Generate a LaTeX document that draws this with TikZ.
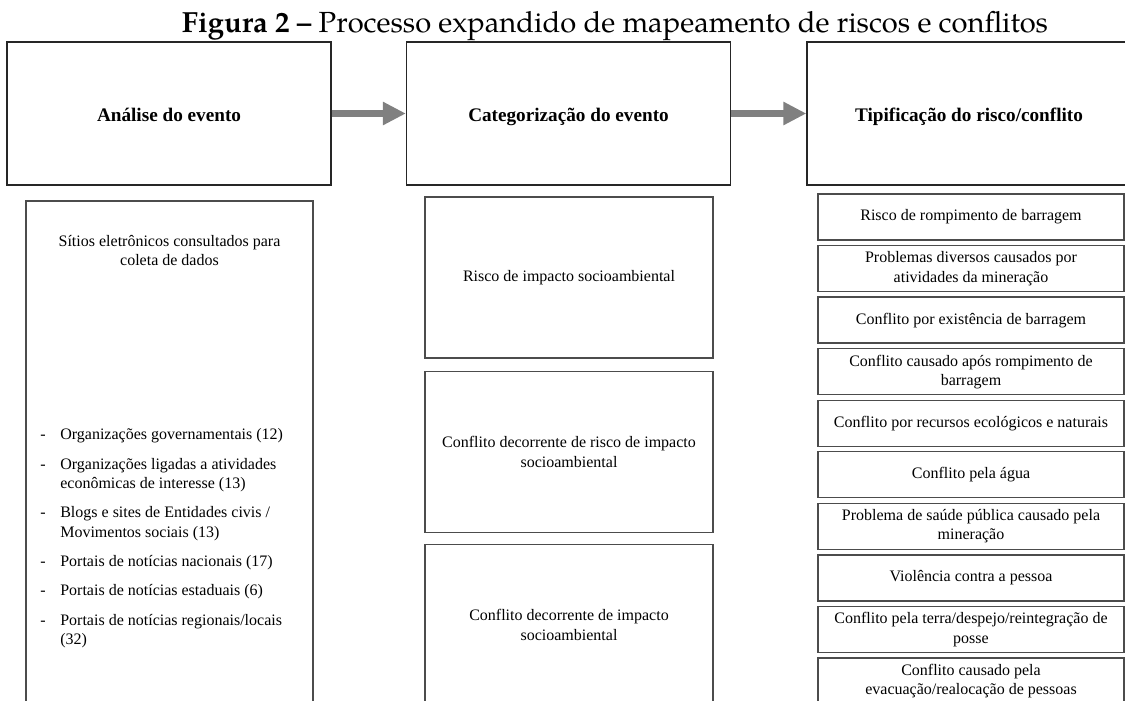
\documentclass[tikz,border=0pt]{standalone}
\usepackage{fontspec}
\setmainfont{Liberation Serif}
\newfontfamily\titlefont{TeX Gyre Pagella}
\usetikzlibrary{arrows.meta}

\begin{document}
\begin{tikzpicture}[x=0.625pt,y=-0.625pt]

        \useasboundingbox (0,0) rectangle (1125,700);
        \clip (0,0) rectangle (1125,700);

        \node[anchor=base] (titulo) at (615,32)
          {\titlefont\fontsize{18.2}{21}\selectfont\textbf{Figura 2 –} Processo expandido de mapeamento de riscos e conflitos};

        % etapas
        \begin{scope}[every node/.style={draw=black!85, line width=0.8pt, minimum width=202.5pt,
                      minimum height=89.4pt, text height=9.4pt, text depth=0pt,
                      font=\fontsize{12}{14}\selectfont\bfseries}]
          \node (e1) at (169,113.5) {Análise do evento};
          \node (e2) at (568.5,113.5) {Categorização do evento};
          \node (e3) at (969,113.5) {Tipificação do risco/conflito};
        \end{scope}

        \begin{scope}[every path/.style={draw=black!50, line width=4.4pt,
                      -{Triangle[length=14.4pt,width=13.75pt]}}]
          \path (e1) -- (e2);
          \path (e2) -- (e3);
        \end{scope}

        % fontes
        \node[draw=black!70, line width=0.8pt, minimum width=179.4pt, minimum height=315.6pt]
          (fontes) at (169.5,453.5) {};
        \node[align=center] (sitios) at (169.5,250.5)
          {Sítios eletrônicos consultados para\\coleta de dados};
        \node[anchor=north west, inner sep=0pt] (lista) at (40,426) {%
          \begin{tabular}{@{}p{12.5pt}@{}l@{}}
            - & Organizações governamentais (12)\\[6.4pt]
            - & Organizações ligadas a atividades\\
              & econômicas de interesse (13)\\[6.4pt]
            - & Blogs e sites de Entidades civis /\\
              & Movimentos sociais (13)\\[6.4pt]
            - & Portais de notícias nacionais (17)\\[6.4pt]
            - & Portais de notícias estaduais (6)\\[6.4pt]
            - & Portais de notícias regionais/locais\\
              & (32)
          \end{tabular}};

        % categorias
        \begin{scope}[every node/.style={draw=black!70, line width=0.8pt, align=center,
                      minimum width=180pt, minimum height=100.6pt}]
          \node (c1) at (569,277.5) {Risco de impacto socioambiental};
          \node (c2) at (569,452) {Conflito decorrente de risco de impacto\\socioambiental};
          \node (c3) at (569,625) {Conflito decorrente de impacto\\socioambiental};
        \end{scope}

        % tipos
        \begin{scope}[every node/.style={draw=black!70, line width=0.8pt, align=center,
                      minimum width=191.25pt, minimum height=28.75pt, inner sep=1pt}]
          \node (t1)  at (971,217)   {Risco de rompimento de barragem};
          \node (t2)  at (971,268.6) {Problemas diversos causados por\\atividades da mineração};
          \node (t3)  at (971,320.1) {Conflito por existência de barragem};
          \node (t4)  at (971,371.7) {Conflito causado após rompimento de\\barragem};
          \node (t5)  at (971,423.2) {Conflito por recursos ecológicos e naturais};
          \node (t6)  at (971,474.8) {Conflito pela água};
          \node (t7)  at (971,526.4) {Problema de saúde pública causado pela\\mineração};
          \node (t8)  at (971,577.9) {Violência contra a pessoa};
          \node (t9)  at (971,629.5) {Conflito pela terra/despejo/reintegração de\\posse};
          \node (t10) at (971,681)   {Conflito causado pela\\evacuação/realocação de pessoas};
        \end{scope}

      \end{tikzpicture}
\end{document}
